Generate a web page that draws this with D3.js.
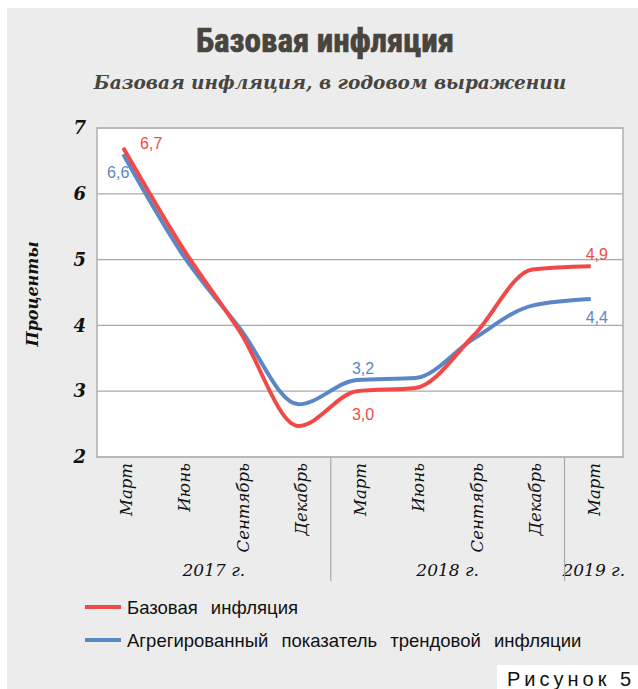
<!DOCTYPE html>
<html>
<head>
<meta charset="utf-8">
<script src="https://cdn.jsdelivr.net/npm/d3@7"></script>
<style>
  body { margin: 0; background: #fff; }
  svg { display: block; }
</style>
</head>
<body>
<div id="chart"></div>
<script>
const W = 638, H = 689;
const MARGIN = {TOP: 128, LEFT: 97, RIGHT: 14, BOTTOM: 232};

const months = ["Март", "Июнь", "Сентябрь", "Декабрь", "Март", "Июнь", "Сентябрь", "Декабрь", "Март"];
const years = ["2017 г.", "2018 г.", "2019 г."];
const yearSpan = [4, 4, 1];
const coreInfl = [6.7, 5.2, 3.9, 2.47, 3.0, 3.05, 3.85, 4.85, 4.9];
const trendInfl = [6.6, 5.1, 3.95, 2.8, 3.17, 3.2, 3.8, 4.3, 4.4];
const yTicks = [2, 3, 4, 5, 6, 7];
const seriesNames = ["Базовая инфляция", "Агрегированный показатель трендовой инфляции"];
const RED = "#f04a48", BLUE = "#5b87c8";

const svg = d3.select("#chart").append("svg").attr("width", W).attr("height", H);

// grey panel
svg.append("rect").attr("x", 7).attr("y", 8).attr("width", W - 7).attr("height", H - 8).attr("fill", "#ececec");

svg.append("text")
  .attr("x", 325).attr("y", 52)
  .attr("text-anchor", "middle")
  .attr("font-family", "'Roboto Condensed', 'Liberation Sans Narrow', sans-serif")
  .attr("font-weight", "bold")
  .attr("font-size", 33)
  .attr("fill", "#48453f")
  .attr("stroke", "#48453f").attr("stroke-width", 0.7)
  .text("Базовая инфляция");

svg.append("text")
  .attr("x", 330).attr("y", 89)
  .attr("text-anchor", "middle")
  .attr("font-family", "'DejaVu Serif', serif")
  .attr("font-style", "italic").attr("font-weight", "bold")
  .attr("font-size", 18.5)
  .attr("fill", "#48453f")
  .text("Базовая инфляция, в годовом выражении");

const plotW = W - MARGIN.LEFT - MARGIN.RIGHT - 1;
const plotH = 457 - MARGIN.TOP;
const g = svg.append("g").attr("transform", `translate(${MARGIN.LEFT},${MARGIN.TOP})`);

const x = d3.scaleBand().domain(d3.range(months.length)).range([0, plotW]);
const y = d3.scaleLinear().domain([2, 7]).range([plotH, 0]);
const px = i => x(i) + x.bandwidth() / 2 - 3;

g.append("rect").attr("width", plotW).attr("height", plotH).attr("fill", "#fff");

g.selectAll(".grid").data(yTicks).enter().append("line")
  .attr("x1", 0).attr("x2", plotW)
  .attr("y1", d => y(d)).attr("y2", d => y(d))
  .attr("stroke", "#a8a8a8").attr("stroke-width", 1.2);

g.append("rect").attr("width", plotW).attr("height", plotH)
  .attr("fill", "none").attr("stroke", "#b0b0b0").attr("stroke-width", 1.5);

const yAxis = g.append("g").call(d3.axisLeft(y).tickValues(yTicks).tickFormat(d3.format("d")).tickSize(0).tickPadding(11));
yAxis.select(".domain").remove();
yAxis.selectAll("text")
  .attr("font-family", "'DejaVu Serif', serif")
  .attr("font-style", "italic").attr("font-weight", "bold")
  .attr("font-size", 18).attr("fill", "#111");

svg.append("text")
  .attr("transform", "translate(38,294) rotate(-90)")
  .attr("text-anchor", "middle")
  .attr("font-family", "'DejaVu Serif', serif")
  .attr("font-style", "italic").attr("font-weight", "bold")
  .attr("font-size", 16).attr("fill", "#111")
  .text("Проценты");

// month labels
const xAxis = g.append("g").attr("transform", `translate(0,${plotH})`)
  .call(d3.axisBottom(x).tickFormat(i => months[i]).tickSize(0).tickPadding(6));
xAxis.select(".domain").remove();
xAxis.selectAll("text")
  .attr("transform", "rotate(-90)")
  .attr("text-anchor", "end")
  .attr("x", -6).attr("y", 0).attr("dy", "0.35em")
  .attr("font-family", "'DejaVu Serif', serif")
  .attr("font-style", "italic")
  .attr("font-size", 16.5).attr("fill", "#111");

// year groups
let start = 0;
years.forEach((yr, k) => {
  const end = start + yearSpan[k];
  const x0 = x(start), x1 = x(end - 1) + x.bandwidth();
  g.append("text")
    .attr("x", (x0 + x1) / 2).attr("y", plotH + 119)
    .attr("text-anchor", "middle")
    .attr("font-family", "'DejaVu Serif', serif")
    .attr("font-style", "italic")
    .attr("font-size", 17).attr("fill", "#111")
    .text(yr);
  if (k > 0) {
    g.append("line").attr("x1", x0).attr("x2", x0)
      .attr("y1", plotH).attr("y2", plotH + 124)
      .attr("stroke", "#a8a8a8").attr("stroke-width", 1.2);
  }
  start = end;
});

const line = d3.line()
  .x((d, i) => px(i))
  .y(d => y(d))
  .curve(d3.curveMonotoneX);

g.append("path").datum(trendInfl).attr("d", line)
  .attr("fill", "none").attr("stroke", BLUE).attr("stroke-width", 4);
g.append("path").datum(coreInfl).attr("d", line)
  .attr("fill", "none").attr("stroke", RED).attr("stroke-width", 4);

// data labels
const fmt = v => d3.format(".1f")(v).replace(".", ",");
const labels = [
  {s: coreInfl, i: 0, c: RED, dx: 28, dy: 1},
  {s: trendInfl, i: 0, c: BLUE, dx: -5, dy: 24},
  {s: trendInfl, i: 4, c: BLUE, dx: 6, dy: -6},
  {s: coreInfl, i: 4, c: RED, dx: 6, dy: 29},
  {s: coreInfl, i: 8, c: RED, dx: 6, dy: -6},
  {s: trendInfl, i: 8, c: BLUE, dx: 6, dy: 24}
];
g.selectAll(".lbl").data(labels).enter().append("text")
  .attr("x", d => px(d.i) + d.dx)
  .attr("y", d => y(d.s[d.i]) + d.dy)
  .attr("text-anchor", "middle")
  .attr("font-family", "'Liberation Sans', Arial, sans-serif")
  .attr("font-size", 16)
  .attr("fill", d => d.c)
  .text(d => fmt(d.s[d.i]));

// legend
const legend = svg.append("g");
[RED, BLUE].forEach((c, k) => {
  const ly = 607 + k * 33;
  legend.append("line").attr("x1", 85).attr("x2", 121).attr("y1", ly).attr("y2", ly)
    .attr("stroke", c).attr("stroke-width", 4);
  legend.append("text").attr("x", 127).attr("y", ly + 7)
    .attr("font-family", "'Liberation Sans', Arial, sans-serif")
    .attr("font-size", 18.5).attr("word-spacing", 8).attr("fill", "#111")
    .text(seriesNames[k]);
});

svg.append("rect").attr("x", 497).attr("y", 665).attr("width", W - 497).attr("height", H - 665).attr("fill", "#fff");
svg.append("text").attr("x", 507).attr("y", 686)
  .attr("font-family", "'Liberation Sans', Arial, sans-serif")
  .attr("font-size", 20).attr("letter-spacing", 4).attr("fill", "#111")
  .text("Рисунок 5");
</script>
</body>
</html>
